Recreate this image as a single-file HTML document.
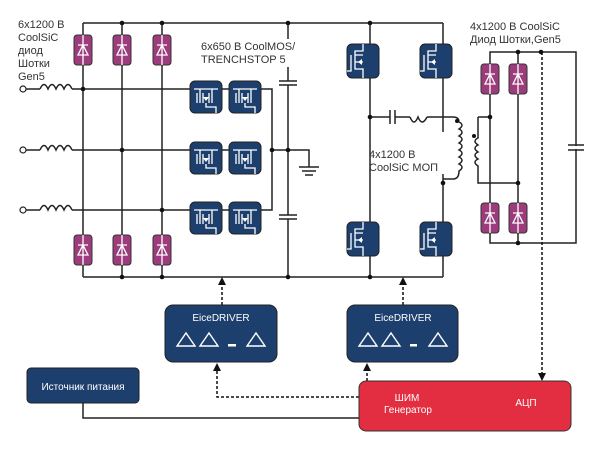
<!DOCTYPE html>
<html><head><meta charset="utf-8"><style>
html,body{margin:0;padding:0;background:#fff;}
svg{display:block;font-family:"Liberation Sans","Noto Sans CJK SC",sans-serif;}
</style></head><body>
<svg width="600" height="455" viewBox="0 0 600 455" xmlns="http://www.w3.org/2000/svg">
<defs>
<g id="dio">
 <rect x="-9" y="-15" width="18" height="30" rx="3" fill="#9c3c7c" stroke="#333" stroke-width="1"/>
 <path d="M0,-15V15M-5,-5H5M-5,5H5L0,-5Z" stroke="#fff" stroke-width="1.3" fill="none"/>
</g>
<g id="mos">
 <rect x="-16" y="-16" width="32" height="32" rx="5" fill="#1d3f6e" stroke="#222" stroke-width="1"/>
 <path d="M-12,-8H12M-6,-8V6M6,-8V6M-9,-4V6M-3,-4V6M3,-4V6M0,6V10H10V16" stroke="#fff" stroke-width="1.3" fill="none"/>
 <path d="M-3,0L3,0L0,4Z" fill="#fff"/>
</g>
<g id="mosv">
 <rect x="-16" y="-17" width="32" height="34" rx="5" fill="#1d3f6e" stroke="#222" stroke-width="1"/>
 <path d="M0,-17V-10H-8V8H0V17M-12,-6V8M-8,-6H0M-8,1H0M-16,10H-12V-6" stroke="#fff" stroke-width="1.3" fill="none"/>
 <path d="M-5,1L-1,-2L-1,4Z" fill="#fff"/>
</g>
</defs>
<g stroke="#222" stroke-width="1.5" fill="none">
 <path d="M83,23H443M83,277H443"/>
 <path d="M83,23V277M122,23V277M162,23V277"/>
 <path d="M26,89H40M72,89H190M26,150H40M72,150H190M26,210H40M72,210H190"/>
 <path d="M40,89q4,-9 8,0q4,-9 8,0q4,-9 8,0q4,-9 8,0M40,150q4,-9 8,0q4,-9 8,0q4,-9 8,0q4,-9 8,0M40,210q4,-9 8,0q4,-9 8,0q4,-9 8,0q4,-9 8,0"/>
 <path d="M221,89H229M221,150H229M221,210H229M261,89H272V210H261M272,150H309V167"/>
 <path d="M299,167H319M302,171H316M305,175H313"/>
 <path d="M288,23V81M288,85V215M288,219V277M279,81H297M279,85H297M279,215H297M279,219H297"/>
 <path d="M370,23V277M443,23V132M443,174V277"/>
 <path d="M370,117H390M395,117H410M427,117H453"/>
 <path d="M390,110V124M395,110V124"/>
 <path d="M410,117q4,10 8,0q4,10 9,0"/>
 <path d="M453,117q6,0 6,5q6,3 0,7q6,3 0,7q6,3 0,7q6,3 0,7q6,3 0,7q6,3 0,7q6,3 0,7q0,8 -6,8H443"/>
 <path d="M478,117V138q-6,3 0,7q-6,3 0,7q-6,3 0,7q-6,3 0,7V183H518M478,117H490"/>
 <path d="M490,52H576V243H490ZM518,52V243M576,145V150"/>
 <path d="M568,145H584M568,150H584"/>
</g>
<line x1="576" y1="146" x2="576" y2="149" stroke="#fff" stroke-width="3"/>
<g fill="#111">
 <circle cx="122" cy="23" r="2.3"/><circle cx="162" cy="23" r="2.3"/><circle cx="288" cy="23" r="2.3"/><circle cx="370" cy="23" r="2.3"/>
 <circle cx="122" cy="277" r="2.3"/><circle cx="162" cy="277" r="2.3"/><circle cx="288" cy="277" r="2.3"/><circle cx="370" cy="277" r="2.3"/>
 <circle cx="83" cy="89" r="2.3"/><circle cx="122" cy="150" r="2.3"/><circle cx="162" cy="210" r="2.3"/>
 <circle cx="272" cy="150" r="2.3"/><circle cx="288" cy="150" r="2.3"/>
 <circle cx="370" cy="117" r="2.3"/><circle cx="443" cy="183" r="2.3"/><circle cx="457" cy="121" r="2"/><circle cx="474" cy="136" r="2"/>
 <circle cx="518" cy="52" r="2.3"/><circle cx="541" cy="52" r="2.3"/><circle cx="490" cy="117" r="2.3"/><circle cx="518" cy="183" r="2.3"/><circle cx="518" cy="243" r="2.3"/>
</g>
<g fill="#fff" stroke="#222" stroke-width="1.2">
 <circle cx="23" cy="89" r="3"/><circle cx="23" cy="150" r="3"/><circle cx="23" cy="210" r="3"/>
</g>
<use href="#dio" x="83" y="50"/><use href="#dio" x="122" y="50"/><use href="#dio" x="162" y="50"/>
<use href="#dio" x="83" y="250"/><use href="#dio" x="122" y="250"/><use href="#dio" x="162" y="250"/>
<use href="#dio" x="490" y="79"/><use href="#dio" x="518" y="79"/>
<use href="#dio" x="490" y="218"/><use href="#dio" x="518" y="218"/>
<use href="#mos" x="206" y="97"/><use href="#mos" x="245" y="97"/>
<use href="#mos" x="206" y="158"/><use href="#mos" x="245" y="158"/>
<use href="#mos" x="206" y="218"/><use href="#mos" x="245" y="218"/>
<use href="#mosv" x="363" y="61"/><use href="#mosv" x="436" y="61"/>
<use href="#mosv" x="363" y="239"/><use href="#mosv" x="436" y="239"/>
<g font-size="11" fill="#333">
 <text x="18" y="28">6x1200 В</text><text x="18" y="41">CoolSiC</text><text x="18" y="54">диод</text><text x="18" y="67">Шотки</text><text x="18" y="80">Gen5</text>
 <rect x="199" y="39" width="100" height="28" fill="#fff"/>
 <text x="201" y="50">6x650 В CoolMOS/</text><text x="201" y="63">TRENCHSTOP 5</text>
 <text x="369" y="158">4x1200 В</text><text x="369" y="171">CoolSiC МОП</text>
 <text x="470" y="30">4x1200 В CoolSiC</text><text x="470" y="43">Диод Шотки,Gen5</text>
</g>
<g stroke="#111" stroke-width="1.5" stroke-dasharray="3,2" fill="none">
 <path d="M542,52V373"/>
 <path d="M222,305V285"/><path d="M403,305V285"/>
 <path d="M359,397H217V371"/><path d="M367,381V371"/>
</g>
<g fill="#111">
 <path d="M538,373H546L542,381Z"/>
 <path d="M218,285H226L222,277Z"/><path d="M399,285H407L403,277Z"/>
 <path d="M213,371H221L217,363Z"/><path d="M363,371H371L367,363Z"/>
</g>
<path d="M83,403V418H359" stroke="#222" stroke-width="1.5" fill="none"/>
<rect x="165" y="305" width="112" height="57" rx="8" fill="#1d3f6e" stroke="#222"/>
<rect x="347" y="305" width="111" height="57" rx="8" fill="#1d3f6e" stroke="#222"/>
<text x="221" y="321" font-size="10" fill="#fff" text-anchor="middle">EiceDRIVER</text>
<text x="403" y="321" font-size="10" fill="#fff" text-anchor="middle">EiceDRIVER</text>
<g stroke="#fff" stroke-width="1.4" fill="none">
 <path d="M177,346L186,333L195,346ZM200,346L209,333L218,346ZM247,346L256,333L265,346Z"/>
 <path d="M359,346L368,333L377,346ZM382,346L391,333L400,346ZM429,346L438,333L447,346Z"/>
</g>
<g fill="#fff"><rect x="228" y="344" width="8" height="2.5"/><rect x="410" y="344" width="7" height="2.5"/></g>
<rect x="27" y="368" width="112" height="35" rx="4" fill="#1d3f6e" stroke="#222"/>
<text x="83" y="390" font-size="10" fill="#fff" text-anchor="middle">Источник питания</text>
<rect x="359" y="381" width="212" height="50" rx="7" fill="#e32d40" stroke="#333"/>
<text x="407" y="401" font-size="10" fill="#fff" text-anchor="middle">ШИМ</text>
<text x="408" y="413" font-size="10" fill="#fff" text-anchor="middle">Генератор</text>
<text x="526" y="406" font-size="10" fill="#fff" text-anchor="middle">АЦП</text>
</svg>
</body></html>
